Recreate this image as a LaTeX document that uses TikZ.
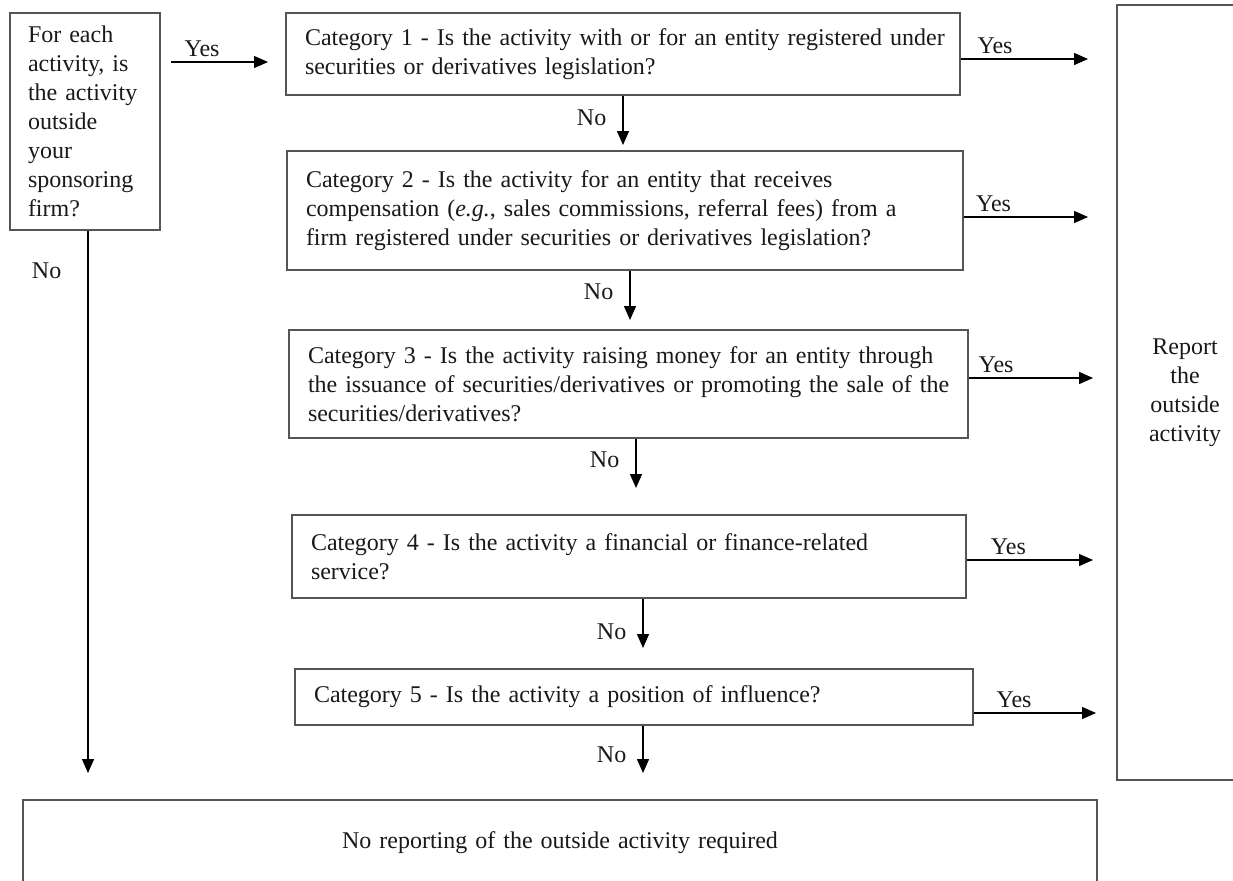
\documentclass[tikz,border=0pt]{standalone}
\usepackage{fontspec}
\setmainfont{Liberation Serif}
\usetikzlibrary{arrows.meta}
\definecolor{boxline}{RGB}{85,85,85}
\definecolor{txt}{RGB}{25,25,25}
\tikzset{
  qbox/.style={draw=boxline, line width=1.5pt, align=left, anchor=center,
    inner ysep=0pt, text=txt, font=\fontsize{24}{29}\selectfont},
  arr/.style={line width=1.4pt, -{Triangle[length=14pt,width=12pt]}},
  lbl/.style={text=txt, font=\fontsize{24}{29}\selectfont, inner sep=2pt}
}
\newcommand{\tline}[1]{\mbox{#1}}
\begin{document}
\begin{tikzpicture}[x=1pt,y=-1pt]
\useasboundingbox (0,0) rectangle (1233,880);
\clip (0,0) rectangle (1233,880);
% boxes
\node[qbox, minimum height=217pt, inner xsep=18pt, text width=114pt] (q0) at (85,121.5)
  {\tline{For each}\\\tline{activity, is}\\\tline{the activity}\\\tline{outside}\\\tline{your}\\\tline{sponsoring}\\\tline{firm?}};
\node[qbox, minimum height=82pt, inner xsep=19pt, text width=636pt] (c1) at (623,54)
  {\tline{Category 1 - Is the activity with or for an entity registered under}\\\tline{securities or derivatives legislation?}};
\node[qbox, minimum height=119pt, inner xsep=19pt, text width=638pt] (c2) at (625,210.5)
  {\tline{Category 2 - Is the activity for an entity that receives}\\\tline{compensation (\textit{e.g.}, sales commissions, referral fees) from a}\\\tline{firm registered under securities or derivatives legislation?}};
\node[qbox, minimum height=108pt, inner xsep=19pt, text width=641pt] (c3) at (628.5,384)
  {\tline{Category 3 - Is the activity raising money for an entity through}\\\tline{the issuance of securities/derivatives or promoting the sale of the}\\\tline{securities/derivatives?}};
\node[qbox, minimum height=83pt, inner xsep=19pt, text width=636pt] (c4) at (629,556.5)
  {\tline{Category 4 - Is the activity a financial or finance-related}\\\tline{service?}};
\node[qbox, minimum height=56pt, inner xsep=19pt, text width=640pt] (c5) at (634,697)
  {\tline{Category 5 - Is the activity a position of influence?}};
\node[qbox, align=center, minimum height=775pt, text width=136pt, inner xsep=0pt] (rep) at (1185,392.5)
  {Report\\the\\outside\\activity};
\node[qbox, align=center, minimum height=86pt, text width=1074pt, inner xsep=0pt] (none) at (560,843)
  {No reporting of the outside activity required};
% free ends
\coordinate (ya) at (171,62);
\coordinate (yb) at (268,62);
\coordinate (r1) at (1088,59);
\coordinate (r2) at (1088,217);
\coordinate (r3) at (1093,378);
\coordinate (r4) at (1093,560);
\coordinate (r5) at (1096,713);
\coordinate (n0) at (88,773);
\coordinate (n1) at (623,145);
\coordinate (n2) at (630,320);
\coordinate (n3) at (636,488);
\coordinate (n4) at (643,648);
\coordinate (n5) at (643,773);
% connectors
\draw[arr] (ya) -- node[lbl, pos=0.32, above=3pt] {Yes} (yb);
\draw[arr] (c1.east |- r1) -- node[lbl, pos=0.27, above=3pt] {Yes} (r1);
\draw[arr] (c2.east |- r2) -- node[lbl, pos=0.24, above=3pt] {Yes} (r2);
\draw[arr] (c3.east |- r3) -- node[lbl, pos=0.22, above=3pt] {Yes} (r3);
\draw[arr] (c4.east |- r4) -- node[lbl, pos=0.33, above=3pt] {Yes} (r4);
\draw[arr] (c5.east |- r5) -- node[lbl, pos=0.33, above=3pt] {Yes} (r5);
\draw[arr] (q0.south -| n0) -- node[lbl, pos=0.074, left=24pt] {No} (n0);
\draw[arr] (c1.south -| n1) -- node[lbl, pos=0.45, left=14pt] {No} (n1);
\draw[arr] (c2.south -| n2) -- node[lbl, pos=0.42, left=14pt] {No} (n2);
\draw[arr] (c3.south -| n3) -- node[lbl, pos=0.42, left=14pt] {No} (n3);
\draw[arr] (c4.south -| n4) -- node[lbl, pos=0.66, left=14pt] {No} (n4);
\draw[arr] (c5.south -| n5) -- node[lbl, pos=0.62, left=14pt] {No} (n5);
\end{tikzpicture}
\end{document}
